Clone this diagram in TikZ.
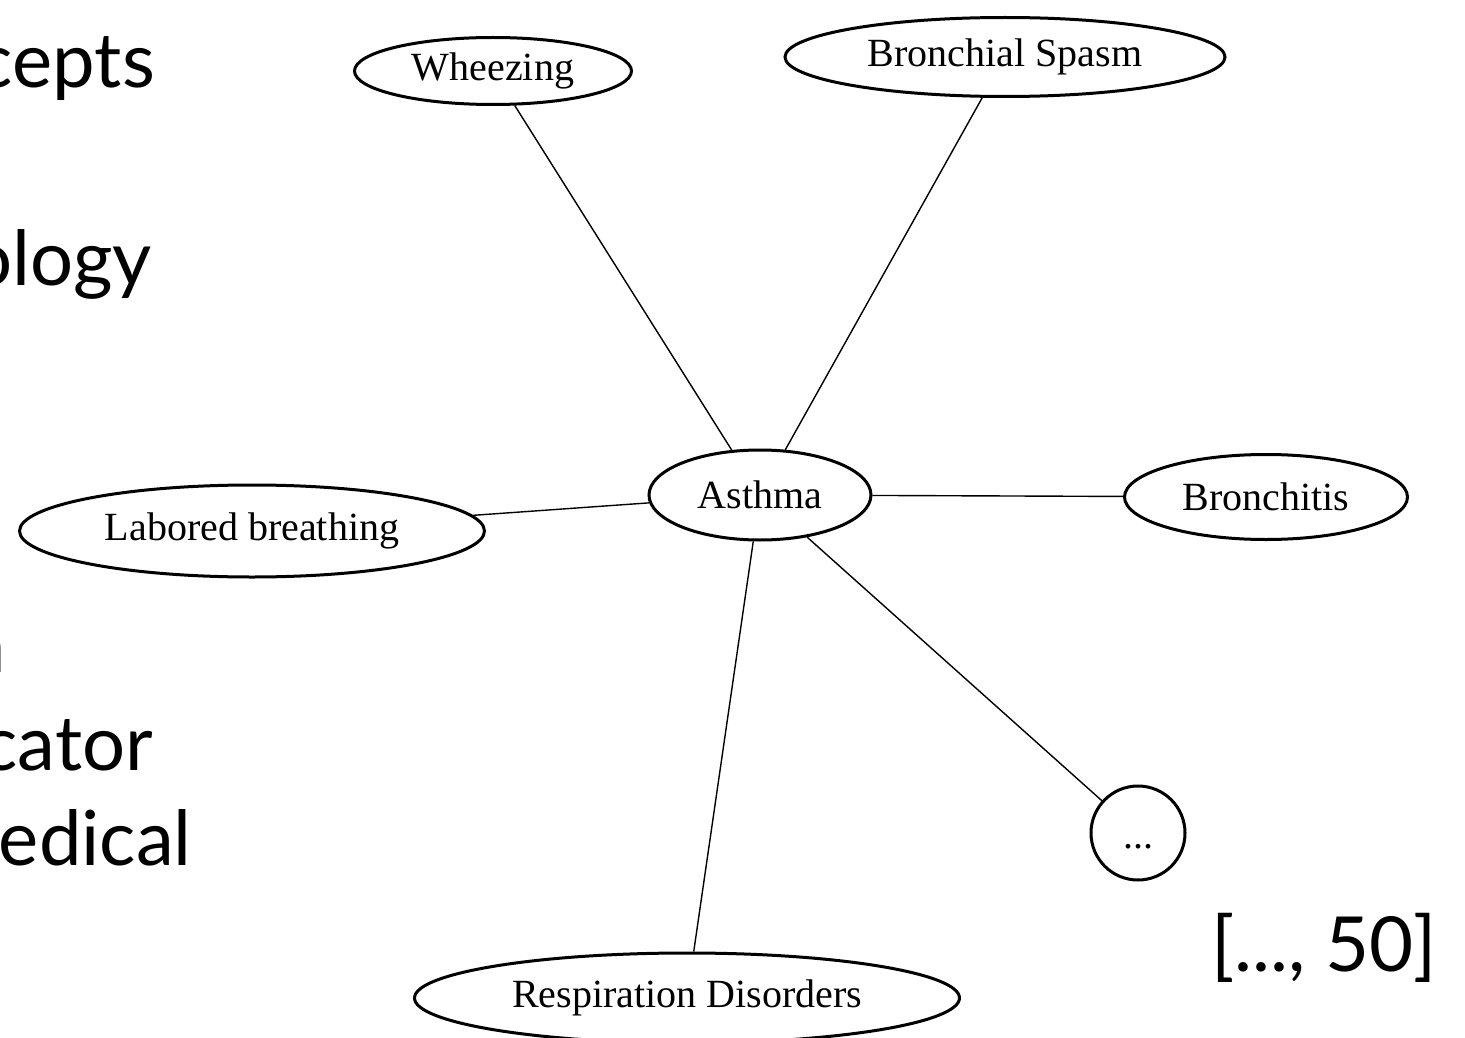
\documentclass[tikz,border=0pt]{standalone}
\usepackage{fontspec}
\setmainfont{Liberation Serif}
\newfontfamily\slidefont{Lato}
\usetikzlibrary{shapes.geometric, positioning}

\begin{document}
\begin{tikzpicture}[x=1pt, y=-1pt,
  concept/.style={draw, ellipse, line width=3pt, inner sep=0pt, font=\fontsize{40}{44}\selectfont},
  link/.style={line width=1.4pt},
  slidetext/.style={anchor=base east, inner sep=0pt, font=\slidefont\fontsize{76}{86}\selectfont}]
\useasboundingbox (0,0) rectangle (1465,1038);
\node at (155,88) [slidetext] {cepts};
\node at (152,285) [slidetext] {ology};
\node at (6,672) [slidetext] {n};
\node at (153,770) [slidetext] {cator};
\node at (192,865) [slidetext] {edical};
\node at (1437,971) [slidetext] {[..., 50]};
\node (asthma) at (760,495) [concept, minimum width=222pt, minimum height=90pt] {Asthma};
\node (wheezing) at (493,71) [concept, minimum width=277pt, minimum height=67pt] {Wheezing};
\node (spasm) at (1005,57) [concept, minimum width=440pt, minimum height=79pt] {Bronchial Spasm};
\node (bronchitis) at (1266,497) [concept, minimum width=283pt, minimum height=85pt] {Bronchitis};
\node (labored) at (252,531) [concept, minimum width=465pt, minimum height=92pt] {Labored breathing};
\node (more) at (1138,833) [concept, circle, minimum size=94pt, text height=30pt, text depth=0pt] {...};
\node (respiration) at (687,998) [concept, minimum width=545pt, minimum height=90pt] {Respiration Disorders};
\draw [link] (wheezing) -- (asthma);
\draw [link] (spasm) -- (asthma);
\draw [link] (asthma) -- (bronchitis);
\draw [link] (labored) -- (asthma);
\draw [link] (asthma) -- (more);
\draw [link] (asthma) -- (respiration);
\end{tikzpicture}
\end{document}
